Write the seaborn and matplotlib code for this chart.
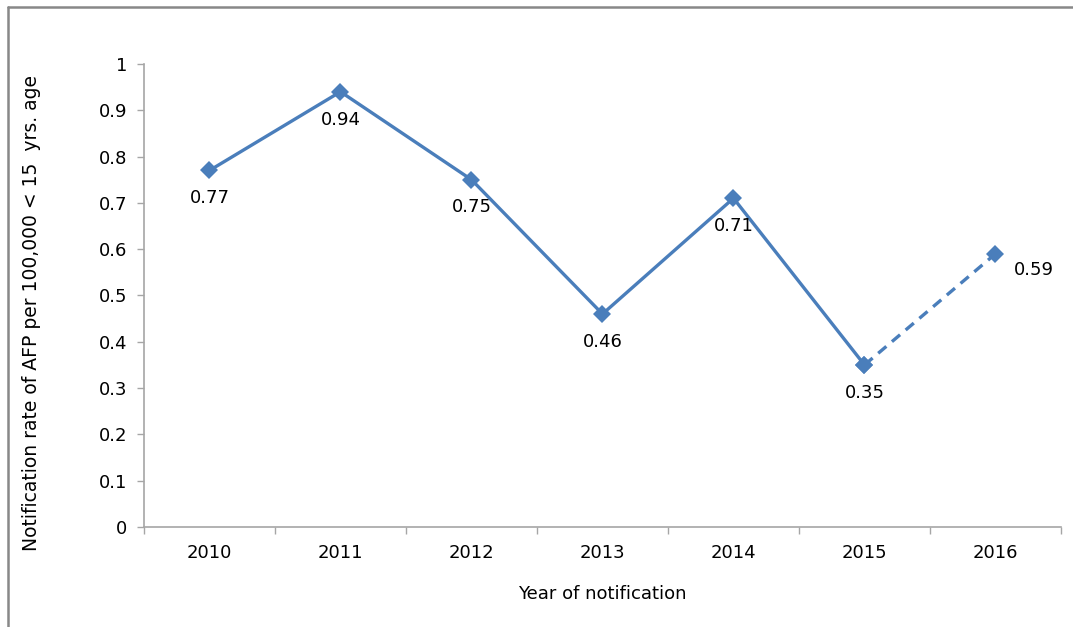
import matplotlib
matplotlib.use("Agg")
import matplotlib.pyplot as plt
from matplotlib.lines import Line2D
import seaborn as sns
import pandas as pd

years = ["2010", "2011", "2012", "2013", "2014", "2015", "2016"]
rates = [0.77, 0.94, 0.75, 0.46, 0.71, 0.35, 0.59]
y_ticks = [0, 0.1, 0.2, 0.3, 0.4, 0.5, 0.6, 0.7, 0.8, 0.9, 1]
y_tick_labels = ["0", "0.1", "0.2", "0.3", "0.4", "0.5", "0.6", "0.7", "0.8", "0.9", "1"]
x_title = "Year of notification"
y_title = "Notification rate of AFP per 100,000 < 15  yrs. age"

sns.set_theme(style="white")
plt.rcParams["font.family"] = ["DejaVu Sans"]

BLUE = "#4a7ebb"
GRAY = "#a6a6a6"
FS = 13

df = pd.DataFrame({"pos": range(len(years)), "year": years, "rate": rates})
confirmed = df.iloc[:-1]
provisional = df.iloc[-2:]

fig = plt.figure(figsize=(10.73, 6.27), dpi=100)
ax = fig.add_axes([0.1342, 0.1595, 0.8546, 0.7385])

sns.lineplot(data=confirmed, x="pos", y="rate", ax=ax, color=BLUE, lw=2.4,
             marker="D", markersize=9.5, markeredgewidth=0, sort=False)
sns.lineplot(data=provisional, x="pos", y="rate", ax=ax, color=BLUE, lw=2.4,
             dashes=(3.2, 2.2), marker="D", markersize=9.5, markeredgewidth=0,
             sort=False)

# value labels
for i, (p, v) in enumerate(zip(df["pos"], df["rate"])):
    if i == len(df) - 1:
        off = (28, -12)
    else:
        off = (0, -20)
    ax.annotate(f"{v:.2f}", (p, v), xytext=off, textcoords="offset points",
                ha="center", va="center", fontsize=FS, color="black")

ax.set_xlim(-0.5, len(years) - 0.5)
ax.set_ylim(0, 1)
ax.set_yticks(y_ticks)
ax.set_yticklabels(y_tick_labels)
ax.set_xticks(range(len(years)))
ax.set_xticklabels(years)
ax.set_xticks([i - 0.5 for i in range(len(years) + 1)], minor=True)

ax.tick_params(axis="x", which="major", length=0, pad=12, labelsize=FS, colors="black")
ax.tick_params(axis="x", which="minor", length=5, width=1, color=GRAY, direction="out", bottom=True)
ax.tick_params(axis="y", which="major", length=5, width=1, color=GRAY, direction="out",
               left=True, pad=7, labelsize=FS, labelcolor="black")

for side in ["top", "right"]:
    ax.spines[side].set_visible(False)
for side in ["left", "bottom"]:
    ax.spines[side].set_color(GRAY)
    ax.spines[side].set_linewidth(1.2)

ax.set_xlabel(x_title, fontsize=FS, color="black", labelpad=17)
ax.set_ylabel(y_title, fontsize=13.5, color="black")
ax.yaxis.set_label_coords(-0.112, 0.463)

# figure frame
fig.add_artist(Line2D([7.5 / 1073, 1], [1 - 6.5 / 627, 1 - 6.5 / 627],
                      transform=fig.transFigure, color="#888888", lw=1.8))
fig.add_artist(Line2D([7.5 / 1073, 7.5 / 1073], [0, 1 - 6.5 / 627],
                      transform=fig.transFigure, color="#888888", lw=1.8))

fig.savefig("out.png", dpi=100)
